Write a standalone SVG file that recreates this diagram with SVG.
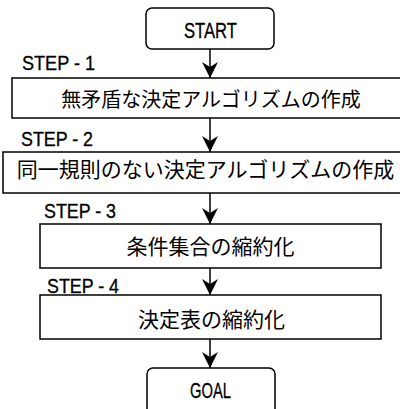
<svg xmlns="http://www.w3.org/2000/svg" width="400" height="409" viewBox="0 0 400 409">
<style>
.box{fill:#fff;stroke:#000;stroke-width:1.5}
.ln{fill:none;stroke:#000;stroke-width:1.5}
.jp{font-family:"Noto Sans CJK JP","Noto Sans CJK SC",sans-serif;fill:#000;text-anchor:middle}
.lat{font-family:"Liberation Sans","DejaVu Sans",sans-serif;fill:#000;stroke:#000;stroke-width:0.3}
</style>
<defs>
<marker id="ah" markerUnits="userSpaceOnUse" viewBox="0 0 16 16" refX="16" refY="8" markerWidth="16" markerHeight="16" orient="auto">
<path d="M0,0 L16,8 L0,16 L5,8 z" fill="#000"/>
</marker>
</defs>
<rect width="400" height="409" fill="#fff"/>
<g id="connectors">
<line class="ln" x1="210" y1="49" x2="210" y2="78" marker-end="url(#ah)"/>
<line class="ln" x1="210" y1="118" x2="210" y2="152" marker-end="url(#ah)"/>
<line class="ln" x1="210" y1="193" x2="210" y2="224" marker-end="url(#ah)"/>
<line class="ln" x1="210" y1="268" x2="210" y2="295" marker-end="url(#ah)"/>
<line class="ln" x1="210" y1="339" x2="210" y2="368" marker-end="url(#ah)"/>
</g>
<g id="start">
<rect class="box" x="146" y="8" width="128" height="41" rx="6"/>
<text class="lat" x="184" y="38" font-size="22" textLength="53" lengthAdjust="spacingAndGlyphs">START</text>
</g>
<g id="step1">
<text class="lat" x="22" y="70" font-size="20" textLength="73" lengthAdjust="spacingAndGlyphs">STEP - 1</text>
<rect class="box" x="12" y="78" width="392" height="40"/>
<text class="jp" x="211" y="107" font-size="20">無矛盾な決定アルゴリズムの作成</text>
</g>
<g id="step2">
<text class="lat" x="21" y="146" font-size="20" textLength="72" lengthAdjust="spacingAndGlyphs">STEP - 2</text>
<rect class="box" x="3" y="152" width="401" height="41"/>
<text class="jp" x="205.5" y="177" font-size="21">同一規則のない決定アルゴリズムの作成</text>
</g>
<g id="step3">
<text class="lat" x="44" y="218" font-size="20" textLength="72" lengthAdjust="spacingAndGlyphs">STEP - 3</text>
<rect class="box" x="40" y="224" width="341" height="44"/>
<text class="jp" x="210.5" y="254" font-size="21">条件集合の縮約化</text>
</g>
<g id="step4">
<text class="lat" x="47" y="293" font-size="20" textLength="72" lengthAdjust="spacingAndGlyphs">STEP - 4</text>
<rect class="box" x="40" y="295" width="341" height="44"/>
<text class="jp" x="211.5" y="327" font-size="21">決定表の縮約化</text>
</g>
<g id="goal">
<rect class="box" x="147" y="368" width="128" height="50" rx="6"/>
<text class="lat" x="190" y="398" font-size="22" textLength="41" lengthAdjust="spacingAndGlyphs">GOAL</text>
</g>
</svg>
